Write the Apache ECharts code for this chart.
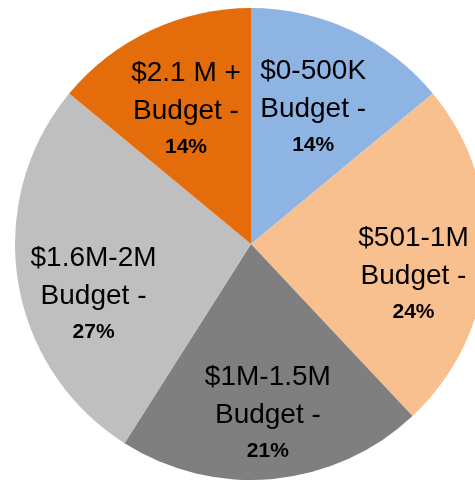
<!DOCTYPE html>
<html>
<head>
<meta charset="utf-8">
<script src="https://cdn.jsdelivr.net/npm/echarts@6/dist/echarts.min.js"></script>
<style>
  html, body { margin: 0; padding: 0; background: #fff; }
  #main { width: 475px; height: 482px; }
</style>
</head>
<body>
<div id="main"></div>
<script>
// data
const categories = ['$0-500K', '$501-1M', '$1M-1.5M', '$1.6M-2M', '$2.1 M +'];
const shares = [14, 24, 21, 27, 14];
const colors = ['#8EB4E3', '#F9C08F', '#7F7F7F', '#BFBFBF', '#E46C0A'];

const chart = echarts.init(document.getElementById('main'), null, { renderer: 'canvas' });

const CX = 251, CY = 244, R = 236;
// label placement like Excel: fraction of radius + small angle nudge (deg)
const labelR = [0.635, 0.70, 0.72, 0.70, 0.635];
const labelShift = [-0.7, 6.8, -0.3, -8.6, -0.5];

const total = shares.reduce((a, b) => a + b, 0);
const cum = [];
shares.reduce((acc, v, i) => { cum[i] = acc; return acc + v; }, 0);

const option = {
  animation: false,
  series: [{
    type: 'pie',
    center: [CX, CY],
    radius: [0, R],
    startAngle: 90,
    clockwise: true,
    avoidLabelOverlap: false,
    itemStyle: { borderWidth: 0 },
    label: {
      show: true,
      position: 'inside',
      color: '#000',
      fontFamily: 'Liberation Sans',
      formatter: p => '{n|' + p.name + '}\n{n|Budget -}\n{p|' + p.value + '%}',
      rich: {
        n: { fontSize: 28, lineHeight: 38, color: '#000', fontFamily: 'Liberation Sans' },
        p: { fontSize: 21, lineHeight: 34, fontWeight: 'bold', color: '#000', fontFamily: 'Liberation Sans' }
      }
    },
    labelLine: { show: false },
    emphasis: { disabled: true },
    labelLayout: function (p) {
      const i = p.dataIndex;
      const a = ((cum[i] + shares[i] / 2) / total * 360 + labelShift[i]) * Math.PI / 180;
      const rr = R * labelR[i];
      return {
        x: CX + rr * Math.sin(a),
        y: CY - rr * Math.cos(a),
        align: 'center',
        verticalAlign: 'middle'
      };
    },
    data: categories.map((c, i) => ({
      name: c,
      value: shares[i],
      itemStyle: { color: colors[i] }
    }))
  }]
};

chart.setOption(option);
</script>
</body>
</html>
